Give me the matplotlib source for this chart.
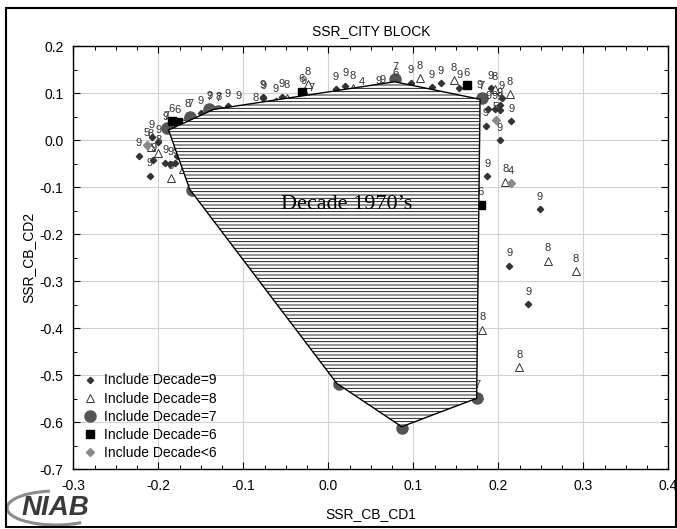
import matplotlib
matplotlib.use('Agg')
import numpy as np
import matplotlib.pyplot as plt
from matplotlib.lines import Line2D
from matplotlib.patches import Polygon, Arc, Rectangle
from matplotlib.ticker import MultipleLocator, FormatStrFormatter

plt.rcParams['font.family'] = ['Liberation Sans', 'DejaVu Sans']
plt.rcParams['axes.unicode_minus'] = False
plt.rcParams['hatch.linewidth'] = 0.6

# ---------------- data ----------------
d9_x = [0.187, 0.249, 0.213, 0.235, 0.202, 0.215, 0.1855, 0.191, 0.204, 0.202, 0.202, 0.196, 0.188, 0.178,
        0.154, 0.1326, 0.097, 0.064, 0.0588, 0.0197, 0.009, -0.029, -0.055, -0.077, -0.0765, -0.106,
        -0.14, -0.15, -0.191, -0.2075, -0.2227, -0.2059, -0.2098, -0.192, -0.186, -0.18, -0.178, -0.2,
        -0.118, -0.062, 0.122]
d9_y = [-0.077, -0.147, -0.268, -0.349, 0.0, 0.04, 0.030, 0.11, 0.089, 0.0745, 0.064, 0.067, 0.067, 0.09,
        0.111, 0.1206, 0.122, 0.102, 0.1, 0.115, 0.1085, 0.1, 0.092, 0.0915, 0.0887, 0.068,
        0.068, 0.0574, 0.022, 0.0064, -0.0334, -0.0426, -0.076, -0.048, -0.052, -0.049, -0.035, -0.005,
        0.072, 0.083, 0.112]

d8_x = [0.208, 0.2585, 0.2914, 0.181, 0.2245, 0.196, 0.2138, 0.1079, 0.1479, 0.029, -0.0245, -0.049,
        -0.086, -0.1295, -0.166, -0.2, -0.2086, -0.185, -0.1706]
d8_y = [-0.089, -0.257, -0.279, -0.404, -0.483, 0.108, 0.097, 0.131, 0.1277, 0.1106, 0.119, 0.09,
        0.063, 0.064, 0.051, -0.027, -0.014, -0.0815, -0.062]

d7_x = [-0.1607, 0.012, 0.0863, 0.175, 0.1805, 0.0785, -0.19, -0.1627, -0.14, -0.1295, -0.02]
d7_y = [-0.1064, -0.519, -0.612, -0.548, 0.0887, 0.129, 0.025, 0.0496, 0.066, 0.062, 0.085]

d6_x = [0.163, 0.1796, -0.184, -0.177, -0.031, 0.0785]
d6_y = [0.117, -0.138, 0.04, 0.038, 0.103, 0.115]

dlt6_x = [0.215, 0.197, -0.2136, 0.039]
dlt6_y = [-0.0915, 0.0426, -0.0106, 0.0979]
dlt6_lab = ['4', '5', '5', '4']

hull_x = [-0.188, -0.135, 0.078, 0.1785, 0.1745, 0.0863, 0.0099, -0.163]
hull_y = [0.0213, 0.065, 0.124, 0.0866, -0.5496, -0.61, -0.5177, -0.105]

legend_labels = ['Include Decade=9', 'Include Decade=8', 'Include Decade=7',
                 'Include Decade=6', 'Include Decade<6']

# ---------------- figure ----------------
fig = plt.figure(figsize=(6.77, 5.29), dpi=100)
fig.patch.set_facecolor('white')
ax = fig.add_axes([0.1083, 0.1134, 0.8789, 0.7996])

ax.set_xlim(-0.3, 0.4)
ax.set_ylim(-0.7, 0.2)
ax.xaxis.set_major_locator(MultipleLocator(0.1))
ax.yaxis.set_major_locator(MultipleLocator(0.1))
ax.xaxis.set_minor_locator(MultipleLocator(0.025))
ax.yaxis.set_minor_locator(MultipleLocator(0.05))
ax.xaxis.set_major_formatter(FormatStrFormatter('%.1f'))
ax.yaxis.set_major_formatter(FormatStrFormatter('%.1f'))
ax.tick_params(which='both', direction='in', top=True, right=True, labelsize=10, pad=7)
ax.tick_params(which='major', length=5, width=0.8)
ax.tick_params(which='minor', length=3, width=0.7)
ax.grid(True, which='major', color='#d2d2d2', lw=0.8)
ax.set_axisbelow(True)
for s in ax.spines.values():
    s.set_linewidth(1.0)

st9 = dict(ls='none', marker='D', ms=3.2, color='#333333')
st8 = dict(ls='none', marker='^', ms=6, mfc='white', mec='#333333', mew=0.7)
st7 = dict(ls='none', marker='o', ms=8, color='#555555')
st6 = dict(ls='none', marker='s', ms=5.5, color='black')
stl = dict(ls='none', marker='D', ms=4, color='#8a8a8a')

ax.plot(d9_x, d9_y, zorder=3, **st9)
ax.plot(d8_x, d8_y, zorder=3, **st8)
ax.plot(d7_x, d7_y, zorder=3, **st7)
ax.plot(d6_x, d6_y, zorder=3, **st6)
ax.plot(dlt6_x, dlt6_y, zorder=3, **stl)

def lab(xs, ys, labels):
    for x, y, t in zip(xs, ys, labels):
        ax.annotate(t, (x, y), xytext=(0, 9), textcoords='offset points',
                    ha='center', va='center', fontsize=8, color='#333333', zorder=3)

lab(d9_x, d9_y, ['9'] * len(d9_x))
lab(d8_x, d8_y, ['8'] * len(d8_x))
lab(d7_x, d7_y, ['7'] * len(d7_x))
lab(d6_x, d6_y, ['6'] * len(d6_x))
lab(dlt6_x, dlt6_y, dlt6_lab)

poly = Polygon(np.column_stack([hull_x, hull_y]), closed=True, facecolor='white',
               edgecolor='black', hatch='-----', lw=1.0, zorder=4)
ax.add_patch(poly)

ax.text(0.021, -0.137, 'Decade 1970\u2019s', family=['Liberation Serif', 'DejaVu Serif'],
        fontsize=16, ha='center', va='center', zorder=5)

ax.set_title('SSR_CITY BLOCK', fontsize=10, pad=8)
ax.set_xlabel('SSR_CB_CD1', fontsize=10)
ax.set_ylabel('SSR_CB_CD2', fontsize=10)
ax.xaxis.label.set_va('center')
ax.yaxis.label.set_va('center')
ax.xaxis.set_label_coords(0.5, -0.106)
ax.yaxis.set_label_coords(-0.076, 0.5)

handles = [Line2D([], [], **st9), Line2D([], [], **st8), Line2D([], [], **st7),
           Line2D([], [], **st6), Line2D([], [], **stl)]
leg = ax.legend(handles, legend_labels, loc='upper left', bbox_to_anchor=(0.0163, 0.226),
                frameon=False, fontsize=10, borderpad=0, borderaxespad=0,
                handlelength=1.0, handletextpad=0.5, labelspacing=0.3)
leg.set_zorder(6)

# figure border
fig.patches.append(Rectangle((6 / 677, 2 / 529), 670 / 677, 519 / 529, transform=fig.transFigure,
                             fill=False, edgecolor='black', lw=1.5))

# NIAB logo
lax = fig.add_axes([0, 0, 110 / 677, 45 / 529])
lax.set_xlim(0, 110)
lax.set_ylim(45, 0)
lax.axis('off')
lax.add_patch(Arc((56, 24), 98, 34, theta1=30, theta2=250, color='#8c8c8c', lw=2.2))
lax.text(55, 24, 'NIAB', fontsize=20, fontweight='bold', fontstyle='italic',
         color='#3a3a3a', ha='center', va='center')

fig.savefig('out.png', dpi=100)
